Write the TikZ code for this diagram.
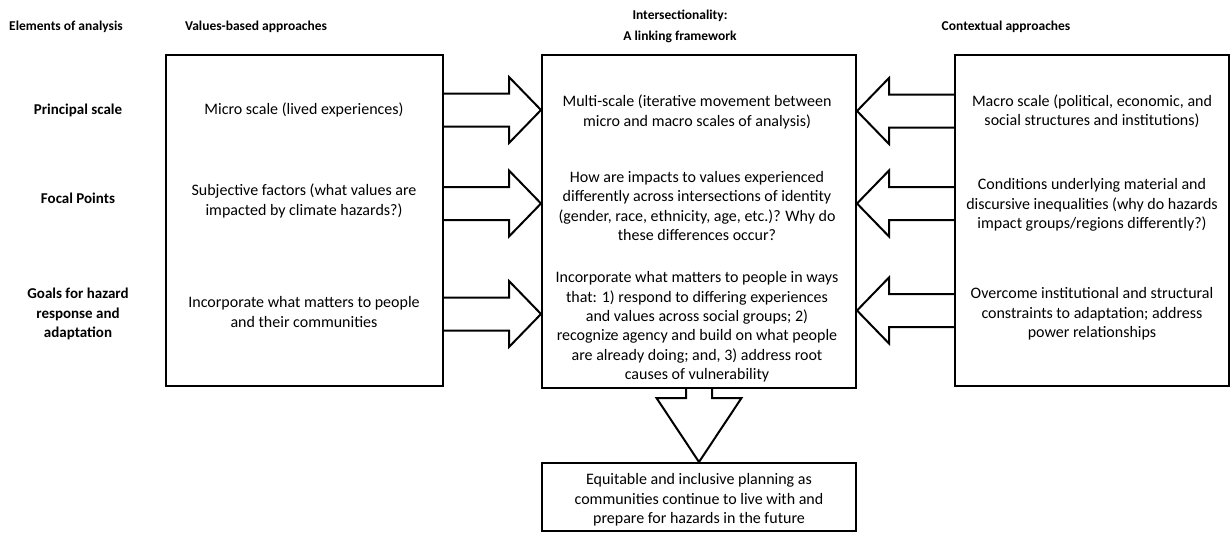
\documentclass[tikz,border=0pt]{standalone}
\usepackage{fontspec}
\setmainfont{Carlito}
\usetikzlibrary{calc}

\tikzset{
  box/.style={draw, line width=2pt, inner sep=0pt},
  txt/.style={align=center, font=\fontsize{16}{19.4}\selectfont},
  hdr/.style={align=center, font=\bfseries\fontsize{13.5}{21}\selectfont},
  rowlbl/.style={align=center, font=\bfseries\fontsize{15}{19.2}\selectfont},
  blockarr/.style={draw, line width=2pt, line join=miter},
}

%% block arrow: start, tip, head length, head half width, shaft half width
\newcommand{\blockarrow}[5]{%
  \coordinate (bs) at (#1);
  \coordinate (bt) at (#2);
  \coordinate (hb) at ($(bt)!#3!(bs)$);
  \draw[blockarr] ($(bs)!#5!90:(bt)$) -- ($(hb)!#5!-90:(bs)$) -- ($(hb)!#4!-90:(bs)$) -- (bt)
    -- ($(hb)!#4!90:(bs)$) -- ($(hb)!#5!90:(bs)$) -- ($(bs)!#5!-90:(bt)$);
}

\begin{document}
\begin{tikzpicture}[x=1pt, y=-1pt]
\useasboundingbox (0,0) rectangle (1230,533);

%% column headers
\node[hdr] (helem) at (66,27) {Elements of analysis};
\node[hdr] (hvals) at (256,27) {Values-based approaches};
\node[hdr] (hinter) at (680,26) {Intersectionality:\\A linking framework};
\node[hdr] (hcont) at (1006,27) {Contextual approaches};

%% row labels
\node[rowlbl] (pscale) at (78,110) {Principal scale};
\node[rowlbl] (focal) at (78,198) {Focal Points};
\node[rowlbl] (goals) at (78,314) {Goals for hazard\\response and\\adaptation};

%% the three tall boxes and the outcome box
\node[box, minimum width=277pt, minimum height=331pt] (vb) at (304.5,220.5) {};
\node[box, minimum width=314pt, minimum height=333pt] (ib) at (699,221.5) {};
\node[box, minimum width=274pt, minimum height=331pt] (cb) at (1092,220.5) {};
\node[box, minimum width=314pt, minimum height=68pt] (eb) at (699,497) {};

%% values-based texts
\node[txt] (micro) at (304,110) {Micro scale (lived experiences)};
\node[txt] (subj) at (304,201) {Subjective factors (what values are\\impacted by climate hazards?)};
\node[txt] (incvb) at (304,312) {Incorporate what matters to people\\and their communities};

%% intersectionality texts
\node[txt] (multi) at (697,112) {Multi-scale (iterative movement between\\micro and macro scales of analysis)};
\node[txt] (howare) at (697,206) {How are impacts to values experienced\\differently across intersections of identity\\(gender, race, ethnicity, age, etc.)? Why do\\these differences occur?};
\node[txt] (incint) at (697,327) {Incorporate what matters to people in ways\\that: 1) respond to differing experiences\\and values across social groups; 2)\\recognize agency and build on what people\\are already doing; and, 3) address root\\causes of vulnerability};

%% contextual texts
\node[txt] (macro) at (1092,111) {Macro scale (political, economic, and\\social structures and institutions)};
\node[txt] (cond) at (1092,205) {Conditions underlying material and\\discursive inequalities (why do hazards\\impact groups/regions differently?)};
\node[txt] (overcome) at (1092,314) {Overcome institutional and structural\\constraints to adaptation; address\\power relationships};

%% outcome text
\node[txt] (equit) at (699,500) {Equitable and inclusive planning as\\communities continue to live with and\\prepare for hazards in the future};

%% arrow rows
\coordinate (la1) at (0,110);
\coordinate (la2) at (0,203.5);
\coordinate (la3) at (0,314);
\coordinate (ra1) at (0,111);
\coordinate (ra2) at (0,203.5);
\coordinate (ra3) at (0,310.5);

%% arrows into the linking framework
\blockarrow{vb.east |- la1}{ib.west |- la1}{32pt}{33pt}{16.5pt}
\blockarrow{vb.east |- la2}{ib.west |- la2}{32pt}{33pt}{16.5pt}
\blockarrow{vb.east |- la3}{ib.west |- la3}{32pt}{33pt}{16.5pt}
\blockarrow{cb.west |- ra1}{ib.east |- ra1}{32pt}{33pt}{16.5pt}
\blockarrow{cb.west |- ra2}{ib.east |- ra2}{32pt}{33pt}{16.5pt}
\blockarrow{cb.west |- ra3}{ib.east |- ra3}{32pt}{33pt}{16.5pt}
%% arrow down to the outcome
\blockarrow{ib.south}{eb.north}{64pt}{42.5pt}{13pt}

\end{tikzpicture}
\end{document}
